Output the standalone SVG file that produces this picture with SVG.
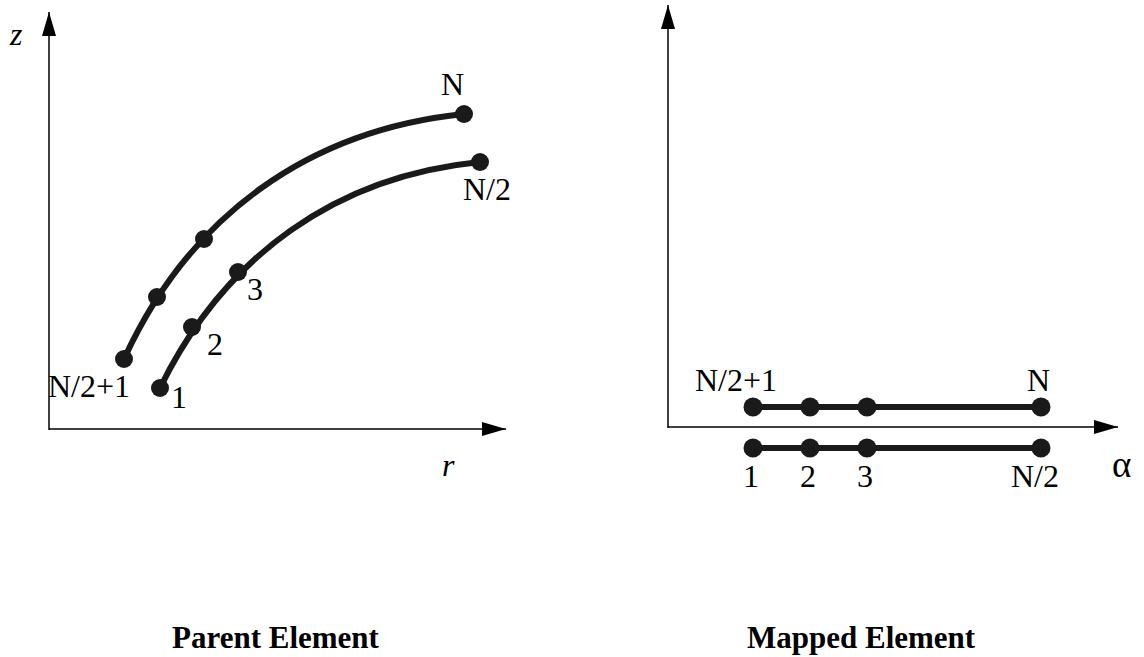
<svg xmlns="http://www.w3.org/2000/svg" width="1144" height="657" viewBox="0 0 1144 657">
<style>
.axis{stroke:#000;stroke-width:1.5;fill:none}
.curve{stroke:#1a1a1a;stroke-width:6;fill:none;stroke-linecap:round}
.dot{fill:#1a1a1a}
.lbl{font-family:"Liberation Serif","Times New Roman",serif;font-size:32px;fill:#000}
.it{font-style:italic}
.title{font-family:"Liberation Serif","Times New Roman",serif;font-size:31px;font-weight:bold;fill:#000}
</style>
<defs>
<marker id="arr" markerUnits="userSpaceOnUse" markerWidth="24" markerHeight="14" refX="24" refY="7" orient="auto">
<path d="M0,0 L24,7 L0,14 z" fill="#000"/>
</marker>
</defs>
<rect width="1144" height="657" fill="#fff"/>
<g id="connectors">
<line class="axis" x1="49" y1="430" x2="49" y2="12" marker-end="url(#arr)"/>
<line class="axis" x1="49" y1="429" x2="506" y2="429" marker-end="url(#arr)"/>
<line class="axis" x1="668" y1="428" x2="668" y2="5" marker-end="url(#arr)"/>
<line class="axis" x1="668" y1="427" x2="1118" y2="427" marker-end="url(#arr)"/>
<path class="curve" d="M124,359 C190,215 309,130 464,114"/>
<path class="curve" d="M160,388 C225,255 337,176 480,162"/>
<line class="curve" x1="753" y1="407" x2="1041" y2="407"/>
<line class="curve" x1="753" y1="448" x2="1041" y2="448"/>
</g>
<g id="axis-labels">
<text class="lbl it" x="10" y="45">z</text>
<text class="lbl it" x="442" y="476">r</text>
<text class="lbl" x="1112" y="477" style="font-size:37px">α</text>
</g>
<g id="parent-nodes">
<g id="p-n21"><circle class="dot" cx="124" cy="359" r="9"/><text class="lbl" x="48" y="397">N/2+1</text></g>
<g id="p-u2"><circle class="dot" cx="157" cy="297" r="9"/></g>
<g id="p-u3"><circle class="dot" cx="204" cy="239" r="9"/></g>
<g id="p-n"><circle class="dot" cx="464" cy="114" r="9"/><text class="lbl" x="441" y="95">N</text></g>
<g id="p-1"><circle class="dot" cx="160" cy="388" r="9"/><text class="lbl" x="171" y="408">1</text></g>
<g id="p-2"><circle class="dot" cx="192" cy="327" r="9"/><text class="lbl" x="207" y="355">2</text></g>
<g id="p-3"><circle class="dot" cx="238" cy="272" r="9"/><text class="lbl" x="247" y="300">3</text></g>
<g id="p-n2"><circle class="dot" cx="480" cy="162" r="9"/><text class="lbl" x="463" y="200">N/2</text></g>
</g>
<g id="mapped-nodes">
<g id="m-n21"><circle class="dot" cx="753" cy="407" r="9.5"/><text class="lbl" x="695" y="391">N/2+1</text></g>
<g id="m-u2"><circle class="dot" cx="810" cy="407" r="9.5"/></g>
<g id="m-u3"><circle class="dot" cx="867" cy="407" r="9.5"/></g>
<g id="m-n"><circle class="dot" cx="1041" cy="407" r="9.5"/><text class="lbl" x="1027" y="391">N</text></g>
<g id="m-1"><circle class="dot" cx="753" cy="448" r="9.5"/><text class="lbl" x="743" y="487">1</text></g>
<g id="m-2"><circle class="dot" cx="810" cy="448" r="9.5"/><text class="lbl" x="800" y="487">2</text></g>
<g id="m-3"><circle class="dot" cx="867" cy="448" r="9.5"/><text class="lbl" x="857" y="487">3</text></g>
<g id="m-n2"><circle class="dot" cx="1041" cy="448" r="9.5"/><text class="lbl" x="1011" y="487">N/2</text></g>
</g>
<g id="titles">
<text class="title" x="172" y="648">Parent Element</text>
<text class="title" x="747" y="648">Mapped Element</text>
</g>
</svg>
